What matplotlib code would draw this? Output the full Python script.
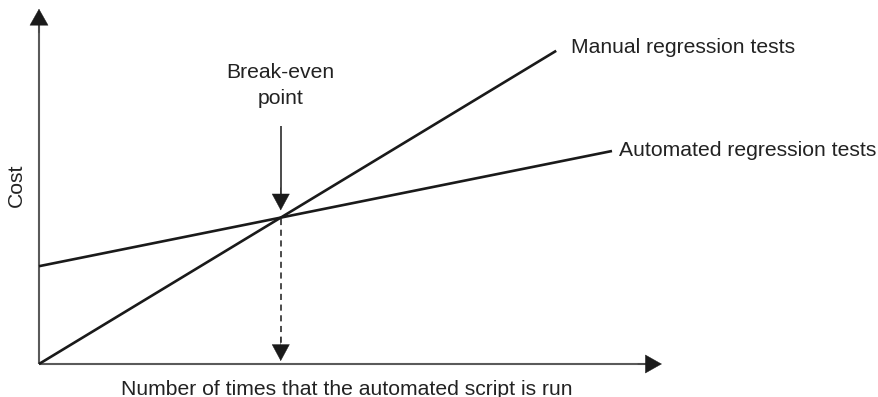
import matplotlib
matplotlib.use("Agg")
import matplotlib.pyplot as plt
import numpy as np

plt.rcParams['font.family'] = ['Liberation Sans', 'DejaVu Sans']

# ---- data (abstract units) ----
manual_runs = [0.0, 8.62]
manual_cost = [0.0, 5.22]
auto_runs = [0.0, 9.55]
auto_cost = [1.63, 3.55]
x_axis_end = 10.38
y_axis_end = 5.92
series_labels = ["Manual regression tests", "Automated regression tests"]
x_label = "Number of times that the automated script is run"
y_label = "Cost"
break_label = "Break-even\npoint"

# break-even (intersection of the two lines)
m1 = (manual_cost[1] - manual_cost[0]) / (manual_runs[1] - manual_runs[0])
m2 = (auto_cost[1] - auto_cost[0]) / (auto_runs[1] - auto_runs[0])
bx = (auto_cost[0] - manual_cost[0]) / (m1 - m2)
by = manual_cost[0] + m1 * bx

W, H, DPI = 879, 397, 100
S = 60.0  # px per unit
ox, oy = 39, 364
fig = plt.figure(figsize=(W / DPI, H / DPI), dpi=DPI)
ax = fig.add_axes([0, 0, 1, 1])
ax.set_xlim(-ox / S, (W - ox) / S)
ax.set_ylim(-(H - oy) / S, oy / S)
ax.axis('off')

fs = 15.2
axis_col = '#5a5a5a'
head_col = '#1a1a1a'
txt_col = '#222222'

def head(x0, y0, x1, y1, hl=11.5, hw=6.5):
    ax.annotate('', xy=(x1, y1), xytext=(x0, y0),
                arrowprops=dict(arrowstyle=f'-|>,head_length={hl},head_width={hw}',
                                mutation_scale=1, shrinkA=0, shrinkB=0,
                                lw=0.3, color=head_col, fc=head_col, ec=head_col))

# axes
ax.plot([0, x_axis_end - 0.2], [0, 0], color=axis_col, lw=1.5, solid_capstyle='butt')
ax.plot([0, 0], [0, y_axis_end - 0.2], color=axis_col, lw=1.5, solid_capstyle='butt')
head(x_axis_end - 0.4, 0, x_axis_end, 0)
head(0, y_axis_end - 0.4, 0, y_axis_end)

# lines
ax.plot(manual_runs, manual_cost, color='#1a1a1a', lw=1.9, solid_capstyle='butt')
ax.plot(auto_runs, auto_cost, color='#1a1a1a', lw=1.9, solid_capstyle='butt')

ax.text(manual_runs[1] + 0.24, manual_cost[1] + 0.05, series_labels[0],
        fontsize=fs, color=txt_col, ha='left', va='center')
ax.text(auto_runs[1] + 0.12, auto_cost[1] - 0.0, series_labels[1],
        fontsize=fs, color=txt_col, ha='left', va='center')

# break-even arrows
ax.plot([bx, bx], [by + 0.3, by + 1.52], color='#1a1a1a', lw=1.1, solid_capstyle='butt')
head(bx, by + 0.5, bx, by + 0.12, hl=11.5, hw=6.2)
ax.plot([bx, bx], [by - 0.02, 0.3], color='#1a1a1a', lw=1.1, linestyle=(0, (4, 3)))
head(bx, 0.45, bx, 0.05, hl=11.5, hw=6.2)
ax.text(bx, by + 2.2, break_label, fontsize=fs, color=txt_col,
        ha='center', va='center', linespacing=1.5)

ax.text(-0.38, 2.98, y_label, fontsize=fs, color=txt_col, rotation=90,
        ha='center', va='center')
ax.text(5.13, -0.42, x_label, fontsize=fs, color=txt_col, ha='center', va='center')

fig.savefig('out.png', dpi=DPI)
